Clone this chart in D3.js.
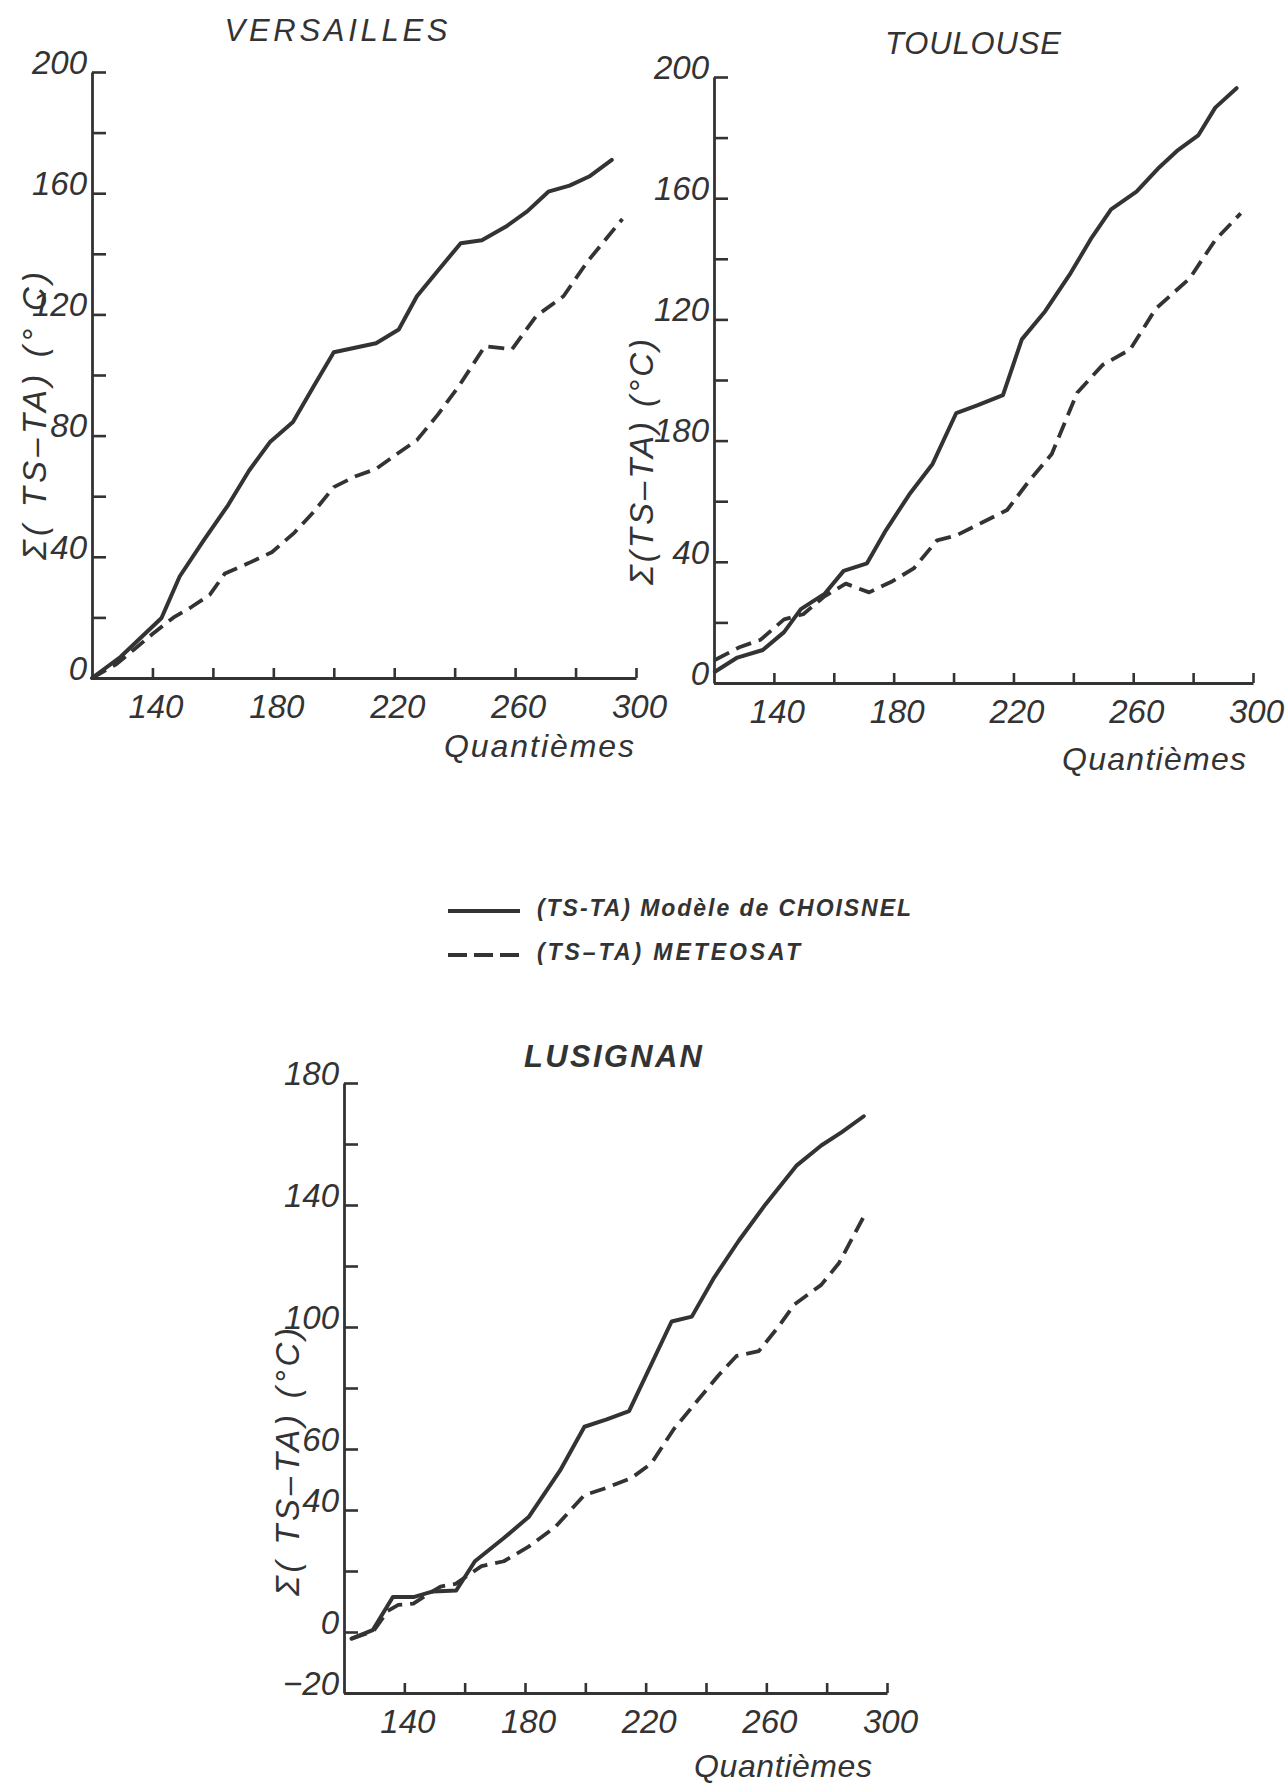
<!DOCTYPE html>
<html>
<head>
<meta charset="utf-8">
<script src="https://cdn.jsdelivr.net/npm/d3@7"></script>
<style>
  html, body { margin: 0; padding: 0; background: #ffffff; }
  svg { display: block; }
  text { font-family: "Liberation Sans", Arial, sans-serif; font-style: italic; fill: #333; }
</style>
</head>
<body>
<svg id="chart" width="1285" height="1784"></svg>
<script>
// ---------------- DATA ----------------
const xTickValues = [140, 160, 180, 200, 220, 240, 260, 280, 300];
const xTickLabels = [140, 180, 220, 260, 300];

const versaillesChoisnelDays = [120,129.5,143,149,157,165,172,179,186.5,193.5,200,207,214,221.5,227.5,234.5,242,249,257,264,271,278,284.5,292];
const versaillesChoisnelVals = [0,7,19.8,33.5,45.5,57,68.5,78,84.5,96.5,107.5,109,110.5,115,126,134.5,143.5,144.5,149,154,160.5,162.5,165.5,171];
const versaillesMeteosatDays = [120,128,134,140,147,153,159,164,172,179.5,187,193.5,200,207,214,221,227.5,234.5,241.5,250,259,267,276,284,295.5];
const versaillesMeteosatVals = [0,4.5,9.5,14.5,20,23.5,27.5,34.5,38,41.5,48,55,63,66.5,69,74,78.5,87,96.5,109.5,108.5,119.5,126,137.5,151.5];

const toulouseChoisnelDays = [120.3,127.8,136.3,143.4,149,156.9,163.3,171.1,177.4,185.2,193,200.9,207.9,216.5,222.8,230.6,239.1,246.2,252.6,261.1,268.2,274.6,281.7,287.4,294.5];
const toulouseChoisnelVals = [3.7,8.4,10.9,16.8,24.4,29.4,37,39.5,50.4,62.2,72.3,89.1,91.6,95,113.4,122.7,135.3,147.1,156.3,162.2,169.7,175.6,180.7,189.9,196.3];
const toulouseMeteosatDays = [120.3,128.5,135.6,143.4,149.8,156.9,164,171.8,179.6,186.7,194.5,200.9,209.4,217.9,225,232.8,241.3,249.8,259,267.5,278.9,287.4,295.9];
const toulouseMeteosatVals = [7.6,11.8,14.3,21,22.7,28.6,32.8,29.9,33.6,37.8,47.1,48.7,52.9,57.1,66.4,75.6,95.8,105,110.1,123.5,133.6,146.2,155];

const lusignanChoisnelDays = [122.5,129.5,136.2,143.3,149.5,157.2,163.4,173,181.2,191.6,199.7,207.1,214.5,228.6,235.3,242.7,250.8,259.7,270.1,278.2,284.9,292.3];
const lusignanChoisnelVals = [-2.2,0.6,11.5,11.5,13.3,13.6,23.2,30.8,37.7,52.9,67.3,69.7,72.4,101.8,103.4,116.2,128.2,140.2,153,159.5,163.8,169.1];
const lusignanMeteosatDays = [122.5,129.8,134.5,138,143,148,152,157,165.6,173,181.2,190.1,199.7,207.1,215.3,221.9,229.3,236.7,244.1,250.1,257.5,264.1,269.3,278.2,284.1,292.3];
const lusignanMeteosatVals = [-2.2,0.3,6.9,8.9,9.3,12.5,14.9,15.8,21.6,23.2,28,34.5,44.9,47.3,50.5,55.3,66.5,75.3,84.1,90.5,92.1,100.2,107.4,113.8,121,136.2];

const versaillesYTicks = [0,20,40,60,80,100,120,140,160,180,200];
const versaillesYLabels = {0:"0",40:"40",80:"80",120:"120",160:"160",200:"200"};
const toulouseYTicks = [0,20,40,60,80,100,120,140,160,180,200];
const toulouseYLabels = {0:"0",40:"40",80:"180",120:"120",160:"160",200:"200"};
const lusignanYTicks = [-20,0,20,40,60,80,100,120,140,160,180];
const lusignanYLabels = {"-20":"\u221220",0:"0",40:"40",60:"60",100:"100",140:"140",180:"180"};

const legendLabels = ["(TS-TA) Modèle de CHOISNEL", "(TS\u2013TA) METEOSAT"];

// ---------------- LAYOUT ----------------
const INK = "#333";
const svg = d3.select("#chart");

const panels = [
  { title: "VERSAILLES", titleX: 336, titleY: 41, titleLen: 223, titleBold: false,
    x0: 92, x1: 636, yBottom: 678, yTop: 72, yDomain: [0, 200],
    yTicks: versaillesYTicks, yLabels: versaillesYLabels,
    yTitle: "\u03A3( TS\u2013TA) (\u00B0 C)", yTitleX: 34, yTitleY: 416, yTitleLen: 288,
    qX: 634, qY: 757, qLen: 190,
    solid: [versaillesChoisnelDays, versaillesChoisnelVals],
    dashed: [versaillesMeteosatDays, versaillesMeteosatVals] },
  { title: "TOULOUSE", titleX: 973, titleY: 54, titleLen: 176, titleBold: false,
    x0: 714, x1: 1253, yBottom: 683, yTop: 77, yDomain: [0, 200],
    yTicks: toulouseYTicks, yLabels: toulouseYLabels,
    yTitle: "\u03A3(TS\u2013TA) (\u00B0C)", yTitleX: 641, yTitleY: 462, yTitleLen: 246,
    qX: 1246, qY: 770, qLen: 184,
    solid: [toulouseChoisnelDays, toulouseChoisnelVals],
    dashed: [toulouseMeteosatDays, toulouseMeteosatVals] },
  { title: "LUSIGNAN", titleX: 613, titleY: 1067, titleLen: 178, titleBold: true,
    x0: 344, x1: 887, yBottom: 1693, yTop: 1083, yDomain: [-20, 180],
    yTicks: lusignanYTicks, yLabels: lusignanYLabels,
    yTitle: "\u03A3( TS\u2013TA) (\u00B0C)", yTitleX: 287, yTitleY: 1462, yTitleLen: 268,
    qX: 872, qY: 1777, qLen: 178,
    solid: [lusignanChoisnelDays, lusignanChoisnelVals],
    dashed: [lusignanMeteosatDays, lusignanMeteosatVals] }
];

panels.forEach(p => {
  const x = d3.scaleLinear().domain([120, 300]).range([p.x0, p.x1]);
  const y = d3.scaleLinear().domain(p.yDomain).range([p.yBottom, p.yTop]);
  const g = svg.append("g");

  // title
  g.append("text")
    .attr("x", p.titleX).attr("y", p.titleY)
    .attr("text-anchor", "middle")
    .attr("font-size", 31)
    .attr("font-weight", p.titleBold ? "bold" : "normal")
    .attr("textLength", p.titleLen).attr("lengthAdjust", "spacing")
    .text(p.title);

  // y axis
  const yAxis = d3.axisLeft(y)
    .tickValues(p.yTicks)
    .tickSize(-14).tickSizeOuter(0).tickPadding(5)
    .tickFormat(d => p.yLabels[d] !== undefined ? p.yLabels[d] : "");
  const ya = g.append("g").attr("transform", `translate(${p.x0},0)`).call(yAxis);
  ya.select(".domain").attr("stroke", INK).attr("stroke-width", 2.8);
  ya.selectAll(".tick line").attr("stroke", INK).attr("stroke-width", 2.6);
  ya.selectAll(".tick text").attr("dy", "0.04em").attr("font-size", 33)
    .attr("font-family", '"Liberation Sans", Arial, sans-serif').attr("fill", INK);

  // x axis
  const xAxis = d3.axisBottom(x)
    .tickValues(xTickValues)
    .tickSize(-10).tickSizeOuter(0).tickPadding(17)
    .tickFormat(d => xTickLabels.includes(d) ? d : "");
  const xa = g.append("g").attr("transform", `translate(0,${p.yBottom})`).call(xAxis);
  xa.select(".domain").attr("stroke", INK).attr("stroke-width", 2.8);
  xa.selectAll(".tick line").attr("stroke", INK).attr("stroke-width", 2.6);
  xa.selectAll(".tick text").attr("dx", 3).attr("font-size", 33)
    .attr("font-family", '"Liberation Sans", Arial, sans-serif').attr("fill", INK);

  // y title
  g.append("text")
    .attr("transform", `translate(${p.yTitleX},${p.yTitleY}) rotate(-90)`)
    .attr("text-anchor", "middle").attr("dominant-baseline", "central")
    .attr("font-size", 33)
    .attr("textLength", p.yTitleLen).attr("lengthAdjust", "spacing")
    .text(p.yTitle);

  // x title
  g.append("text")
    .attr("x", p.qX).attr("y", p.qY)
    .attr("text-anchor", "end")
    .attr("font-size", 32)
    .attr("textLength", p.qLen).attr("lengthAdjust", "spacing")
    .text("Quantièmes");

  const line = d3.line().x(d => x(d[0])).y(d => y(d[1]));
  const solidPts = p.solid[0].map((d, i) => [d, p.solid[1][i]]);
  const dashPts = p.dashed[0].map((d, i) => [d, p.dashed[1][i]]);

  g.append("path").datum(dashPts)
    .attr("d", line).attr("fill", "none")
    .attr("stroke", INK).attr("stroke-width", 3.8)
    .attr("stroke-dasharray", "16 8")
    .attr("stroke-linejoin", "round");
  g.append("path").datum(solidPts)
    .attr("d", line).attr("fill", "none")
    .attr("stroke", INK).attr("stroke-width", 4)
    .attr("stroke-linejoin", "round").attr("stroke-linecap", "round");
});

// ---------------- LEGEND ----------------
const legend = svg.append("g");
const legendRows = [
  { y: 911, dash: null, label: legendLabels[0], len: 374 },
  { y: 955, dash: "19 7", label: legendLabels[1], len: 263 }
];
legendRows.forEach(r => {
  legend.append("line")
    .attr("x1", 448).attr("x2", 520).attr("y1", r.y).attr("y2", r.y)
    .attr("stroke", INK).attr("stroke-width", 3.8)
    .attr("stroke-dasharray", r.dash);
  legend.append("text")
    .attr("x", 537).attr("y", r.y + 5)
    .attr("font-size", 23).attr("font-weight", "bold")
    .attr("textLength", r.len).attr("lengthAdjust", "spacing")
    .text(r.label);
});
</script>
</body>
</html>
